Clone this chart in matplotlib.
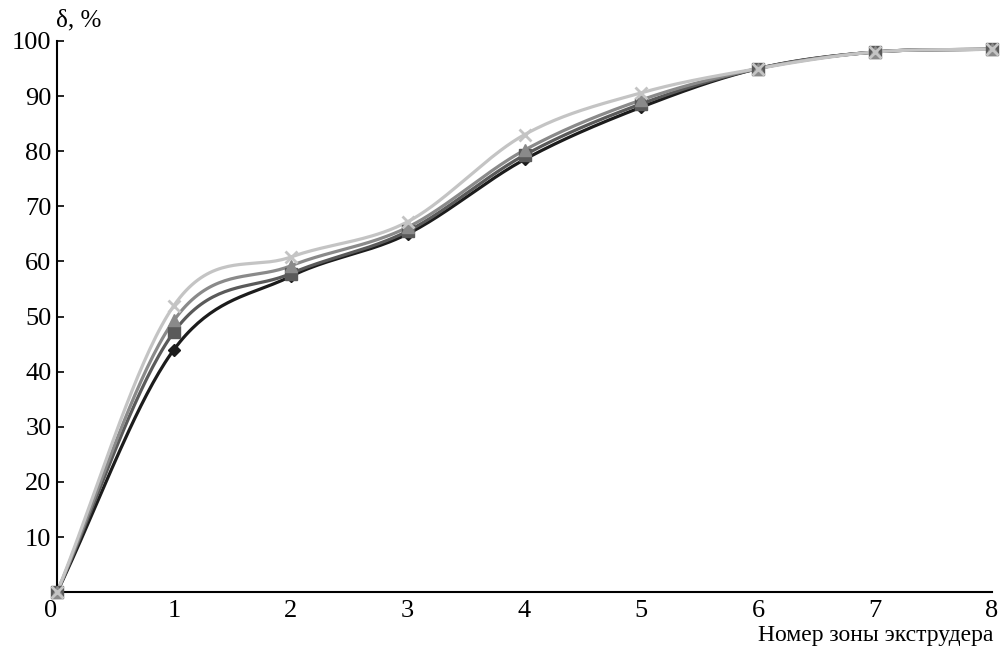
import numpy as np
import matplotlib.pyplot as plt

plt.rcParams['font.family'] = ['Liberation Serif', 'DejaVu Serif']

zones = [0, 1, 2, 3, 4, 5, 6, 7, 8]
s1 = [0, 44, 57.3, 65, 78.5, 88, 95, 98, 98.5]
s2 = [0, 47.2, 57.8, 65.5, 79.3, 88.6, 95, 98, 98.5]
s3 = [0, 49.3, 59.2, 66.2, 80.2, 89.3, 95, 98, 98.5]
s4 = [0, 52, 60.8, 67.2, 83, 90.6, 95, 98, 98.5]

series = [
    (s1, '#1c1c1c', 'D', 6),
    (s2, '#5a5a5a', 's', 8),
    (s3, '#8a8a8a', '^', 8),
    (s4, '#c4c4c4', 'x', 8),
]


def smooth(x, y, n=40):
    # catmull-rom, like excel smoothed lines
    x = np.asarray(x, float)
    y = np.asarray(y, float)
    px = np.concatenate([[2 * x[0] - x[1]], x, [2 * x[-1] - x[-2]]])
    py = np.concatenate([[2 * y[0] - y[1]], y, [2 * y[-1] - y[-2]]])
    xs, ys = [], []
    t = np.linspace(0, 1, n)
    for i in range(1, len(px) - 2):
        for p, out in ((px, xs), (py, ys)):
            p0, p1, p2, p3 = p[i - 1], p[i], p[i + 1], p[i + 2]
            out.append(0.5 * (2 * p1 + (-p0 + p2) * t
                              + (2 * p0 - 5 * p1 + 4 * p2 - p3) * t ** 2
                              + (-p0 + 3 * p1 - 3 * p2 + p3) * t ** 3))
    return np.concatenate(xs), np.concatenate(ys)


fig = plt.figure(figsize=(10.01, 6.5), dpi=100)
ax = fig.add_axes([0.057, 0.089, 0.934, 0.848])

for vals, col, mk, ms in series:
    sx, sy = smooth(zones, vals)
    ax.plot(sx, sy, color=col, lw=2.3, clip_on=False)
    ax.plot(zones, vals, ls='none', marker=mk, color=col, ms=ms,
            mew=2 if mk == 'x' else 1, clip_on=False, zorder=3)

ax.set_xlim(0, 8)
ax.set_ylim(0, 100)
ax.set_xticks(zones)
ax.set_yticks(range(10, 101, 10))
ax.tick_params(axis='both', labelsize=19, direction='in', length=5, width=1.2)
ax.tick_params(axis='x', length=0, pad=6)
ax.tick_params(axis='y', pad=4)
ax.get_xticklabels()[0].set_horizontalalignment('right')
for s in ['top', 'right']:
    ax.spines[s].set_visible(False)
for s in ['left', 'bottom']:
    ax.spines[s].set_linewidth(1.5)

fig.text(0.056, 0.968, 'δ, %', fontsize=18, ha='left', va='center')
fig.text(0.992, 0.006, 'Номер зоны экструдера', fontsize=17, ha='right', va='bottom')

fig.savefig('out.png', dpi=100)
